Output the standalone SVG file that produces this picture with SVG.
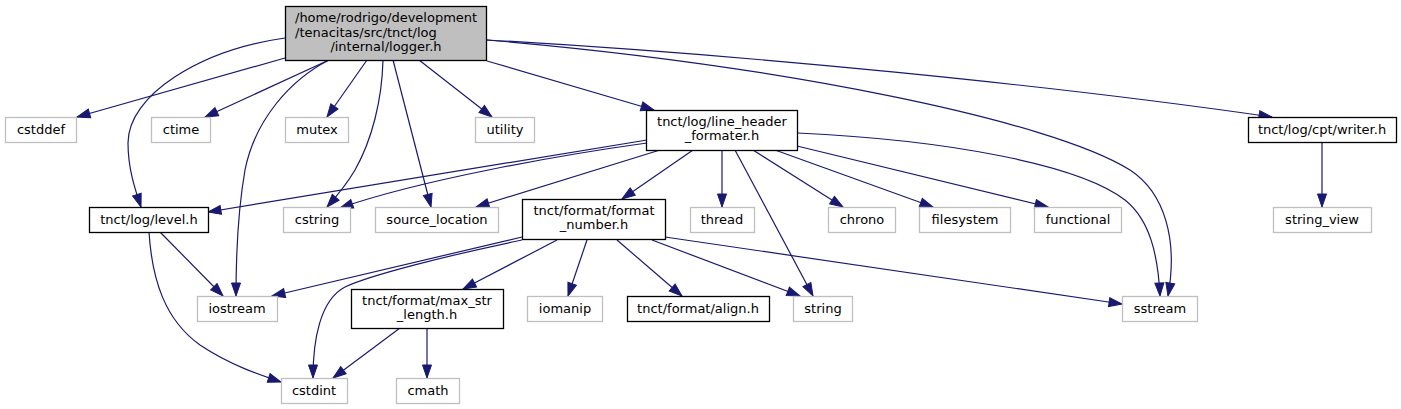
<svg xmlns="http://www.w3.org/2000/svg" width="1401" height="409" viewBox="0 0 1401 409">
<style>
text{font-family:"DejaVu Sans","Liberation Sans",sans-serif;font-size:13px;fill:#000;text-anchor:middle}
.ext rect{fill:#fff;stroke:#bfbfbf;stroke-width:1.3}
.doc rect{fill:#fff;stroke:#000;stroke-width:1.3}
.root rect{fill:#bfbfbf;stroke:#000;stroke-width:1.3}
#edges path{fill:none;stroke:#191970;stroke-width:1.2;marker-end:url(#arr)}
</style>
<defs>
<marker id="arr" markerUnits="userSpaceOnUse" markerWidth="16" markerHeight="12" refX="13" refY="4.5" orient="auto" viewBox="-1 -1 16 12">
<path d="M0,0 L13,4.5 L0,9 z" fill="#191970" stroke="#191970" stroke-width="1"/>
</marker>
</defs>
<rect width="1401" height="409" fill="#fff"/>
<g id="edges">
<path d="M285,58 L77,117"/>
<path d="M329,60 L205,117"/>
<path d="M367,60 L327,117"/>
<path d="M419,60 L492,117"/>
<path d="M285,38 C200,50 128,95 128,143 C128,170 136,192 141,207"/>
<path d="M329,60 C290,80 255,120 245,170 C238,210 236,260 236,296"/>
<path d="M383,60 C382,100 372,140 355,170 C345,187 335,198 327,207"/>
<path d="M393,60 L431,207"/>
<path d="M487,61 L654,110"/>
<path d="M487,40 C750,55 1050,85 1272,117"/>
<path d="M487,40 C780,65 1050,120 1130,170 C1165,193 1178,240 1168,296"/>
<path d="M1322,142 L1322,207"/>
<path d="M647,140 L208,212"/>
<path d="M647,143 C560,155 420,180 340,208"/>
<path d="M660,150 L476,207"/>
<path d="M693,150 L622,199"/>
<path d="M722,150 L722,207"/>
<path d="M735,150 L813,296"/>
<path d="M753,150 L843,207"/>
<path d="M775,150 L933,207"/>
<path d="M797,146 L1048,207"/>
<path d="M797,133 C950,140 1080,165 1125,200 C1150,220 1158,255 1160,296"/>
<path d="M522,237 L272,296"/>
<path d="M522,240 C450,255 370,275 345,287 C320,300 313,340 313,378"/>
<path d="M557,240 L463,289"/>
<path d="M587,240 L568,296"/>
<path d="M617,240 L682,296"/>
<path d="M652,240 L800,296"/>
<path d="M665,237 L1122,304"/>
<path d="M160,232 L223,296"/>
<path d="M149,232 C152,280 165,320 200,345 C230,365 260,375 281,382"/>
<path d="M400,328 L333,378"/>
<path d="M427,328 L427,378"/>
</g>
<g id="logger" class="root"><rect x="285.5" y="6.5" width="201" height="54"/>
<text x="295" y="22" style="text-anchor:start">/home/rodrigo/development</text>
<text x="295" y="36.5" style="text-anchor:start">/tenacitas/src/tnct/log</text>
<text x="386" y="51">/internal/logger.h</text></g>
<g id="cstddef" class="ext"><rect x="5.5" y="117.5" width="71" height="25"/><text x="41" y="134">cstddef</text></g>
<g id="ctime" class="ext"><rect x="151.5" y="117.5" width="59" height="25"/><text x="181" y="134">ctime</text></g>
<g id="mutex" class="ext"><rect x="285.5" y="117.5" width="63" height="25"/><text x="317" y="134">mutex</text></g>
<g id="utility" class="ext"><rect x="475.5" y="117.5" width="59" height="25"/><text x="505" y="134">utility</text></g>
<g id="line_header" class="doc"><rect x="646.5" y="110.5" width="151" height="40"/>
<text x="722" y="126">tnct/log/line_header</text><text x="722" y="140">_formater.h</text></g>
<g id="writer" class="doc"><rect x="1248.5" y="117.5" width="148" height="25"/><text x="1322" y="134">tnct/log/cpt/writer.h</text></g>
<g id="level" class="doc"><rect x="89.5" y="207.5" width="119" height="25"/><text x="149" y="224">tnct/log/level.h</text></g>
<g id="cstring" class="ext"><rect x="283.5" y="207.5" width="67" height="25"/><text x="317" y="224">cstring</text></g>
<g id="source_location" class="ext"><rect x="375.5" y="207.5" width="123" height="25"/><text x="437" y="224">source_location</text></g>
<g id="format_number" class="doc"><rect x="522.5" y="199.5" width="143" height="40"/>
<text x="594" y="215">tnct/format/format</text><text x="594" y="229">_number.h</text></g>
<g id="thread" class="ext"><rect x="690.5" y="207.5" width="64" height="25"/><text x="722" y="224">thread</text></g>
<g id="chrono" class="ext"><rect x="828.5" y="207.5" width="67" height="25"/><text x="862" y="224">chrono</text></g>
<g id="filesystem" class="ext"><rect x="919.5" y="207.5" width="91" height="25"/><text x="965" y="224">filesystem</text></g>
<g id="functional" class="ext"><rect x="1034.5" y="207.5" width="87" height="25"/><text x="1078" y="224">functional</text></g>
<g id="string_view" class="ext"><rect x="1273.5" y="207.5" width="98" height="25"/><text x="1322" y="224">string_view</text></g>
<g id="iostream" class="ext"><rect x="197.5" y="296.5" width="80" height="25"/><text x="237" y="313">iostream</text></g>
<g id="max_str_length" class="doc"><rect x="351.5" y="289.5" width="152" height="39"/>
<text x="427" y="305">tnct/format/max_str</text><text x="427" y="319">_length.h</text></g>
<g id="iomanip" class="ext"><rect x="527.5" y="296.5" width="75" height="25"/><text x="565" y="313">iomanip</text></g>
<g id="align" class="doc"><rect x="627.5" y="296.5" width="142" height="25"/><text x="698" y="313">tnct/format/align.h</text></g>
<g id="string" class="ext"><rect x="793.5" y="296.5" width="59" height="25"/><text x="823" y="313">string</text></g>
<g id="sstream" class="ext"><rect x="1122.5" y="296.5" width="75" height="25"/><text x="1160" y="313">sstream</text></g>
<g id="cstdint" class="ext"><rect x="281.5" y="378.5" width="66" height="25"/><text x="314" y="395">cstdint</text></g>
<g id="cmath" class="ext"><rect x="396.5" y="378.5" width="63" height="25"/><text x="428" y="395">cmath</text></g>
</svg>
